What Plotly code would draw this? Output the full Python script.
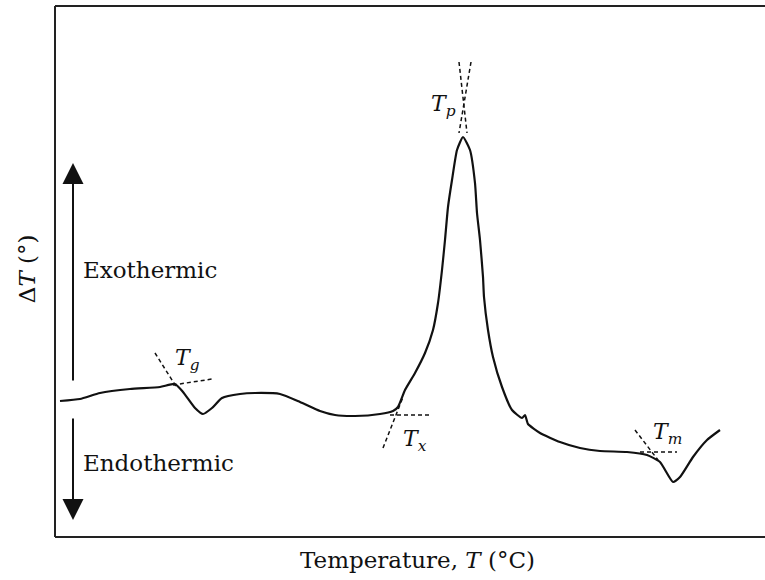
import plotly.graph_objects as go

# DTA curve (arbitrary units: temperature along x, delta T along y)
temperature = [5, 25, 45, 75, 105, 120, 128, 140, 148, 157, 167, 185, 200, 225, 245, 265, 280, 300,
               325, 338, 343, 350, 360, 370, 378, 383, 387, 390, 393, 397, 402, 408, 415, 420, 422,
               425, 428, 429, 433, 438, 447, 457, 467, 470, 473, 485, 505, 525, 545, 572, 592, 605,
               618, 625, 638, 652, 665]
delta_t = [136, 138, 144, 148, 150, 153, 145, 129, 123, 129, 139, 143, 144, 143, 135, 126, 122, 121,
           123, 126, 130, 147, 164, 184, 207, 234, 267, 297, 330, 357, 387, 400, 387, 354, 324,
           297, 260, 240, 207, 180, 150, 127, 119, 122, 113, 104, 95, 89, 86, 85, 82, 75,
           55, 60, 80, 97, 107]

# Dashed tangent construction lines: (x0, y0, x1, y1)
tangent_names = ["Tg_a", "Tg_b", "Tx_a", "Tx_b", "Tp_a", "Tp_b", "Tm_a", "Tm_b"]
tangent_x0 = [100, 118, 328, 335, 404, 416, 585, 580]
tangent_y0 = [184, 152, 89, 122, 475, 475, 85, 107]
tangent_x1 = [122, 157, 348, 377, 412, 404, 622, 603]
tangent_y1 = [149, 158, 140, 122, 404, 404, 85, 77]

# Characteristic temperature labels
label_text = ["<i>T<sub>g</sub></i>", "<i>T<sub>x</sub></i>", "<i>T<sub>p</sub></i>", "<i>T<sub>m</sub></i>"]
label_x = [118, 346, 374, 596]
label_y = [178, 97, 432, 104]

FONT = "DejaVu Serif"
INK = "#111111"

fig = go.Figure()
fig.add_trace(go.Scatter(x=temperature, y=delta_t, mode="lines",
                         line=dict(color=INK, width=2.2, shape="spline", smoothing=0.5),
                         hoverinfo="skip", showlegend=False))
for i in range(len(tangent_names)):
    fig.add_trace(go.Scatter(x=[tangent_x0[i], tangent_x1[i]], y=[tangent_y0[i], tangent_y1[i]],
                             mode="lines", line=dict(color=INK, width=1.5, dash="4px,3px"),
                             hoverinfo="skip", showlegend=False))

for t, x, y in zip(label_text, label_x, label_y):
    fig.add_annotation(x=x, y=y, text=t, showarrow=False, xanchor="left", yanchor="middle",
                       font=dict(family=FONT, size=22, color=INK))

# Exothermic / Endothermic arrows
fig.add_annotation(x=18, y=374, ax=18, ay=155, xref="x", yref="y", axref="x", ayref="y",
                   text="", showarrow=True, arrowhead=2, arrowsize=2.1, arrowwidth=2, arrowcolor=INK,
                   standoff=0, startstandoff=0)
fig.add_annotation(x=18, y=17, ax=18, ay=120, xref="x", yref="y", axref="x", ayref="y",
                   text="", showarrow=True, arrowhead=2, arrowsize=2.1, arrowwidth=2, arrowcolor=INK,
                   standoff=0, startstandoff=0)
fig.add_annotation(x=26, y=267, text="Exothermic", showarrow=False, xanchor="left", yanchor="middle",
                   font=dict(family=FONT, size=23, color=INK))
fig.add_annotation(x=26, y=74, text="Endothermic", showarrow=False, xanchor="left", yanchor="middle",
                   font=dict(family=FONT, size=23, color=INK))

# Axis titles (paper coordinates, outside the plotting area)
fig.add_annotation(x=-0.039, y=0.505, xref="paper", yref="paper", text="Δ<i>T</i> (°)",
                   showarrow=False, textangle=-90, xanchor="center", yanchor="middle",
                   font=dict(family=FONT, size=23, color=INK))
fig.add_annotation(x=0.51, y=-0.043, xref="paper", yref="paper", text="Temperature, <i>T</i> (°C)",
                   showarrow=False, xanchor="center", yanchor="middle",
                   font=dict(family=FONT, size=23, color=INK))

# Frame: left, top, bottom (no right edge)
frame = dict(color="#222", width=2)
fig.add_shape(type="line", xref="paper", yref="paper", x0=0, x1=0, y0=0, y1=1, line=frame)
fig.add_shape(type="line", xref="paper", yref="paper", x0=0, x1=1, y0=1, y1=1, line=frame)
fig.add_shape(type="line", xref="paper", yref="paper", x0=0, x1=1, y0=0, y1=0, line=frame)

fig.update_xaxes(range=[0, 710], showline=False, showgrid=False, zeroline=False,
                 showticklabels=False, ticks="")
fig.update_yaxes(range=[0, 531], showline=False, showgrid=False, zeroline=False,
                 showticklabels=False, ticks="")
fig.update_layout(width=765, height=580, margin=dict(l=55, r=0, t=6, b=43),
                  paper_bgcolor="white", plot_bgcolor="white", showlegend=False)

fig.write_html("out.html")
